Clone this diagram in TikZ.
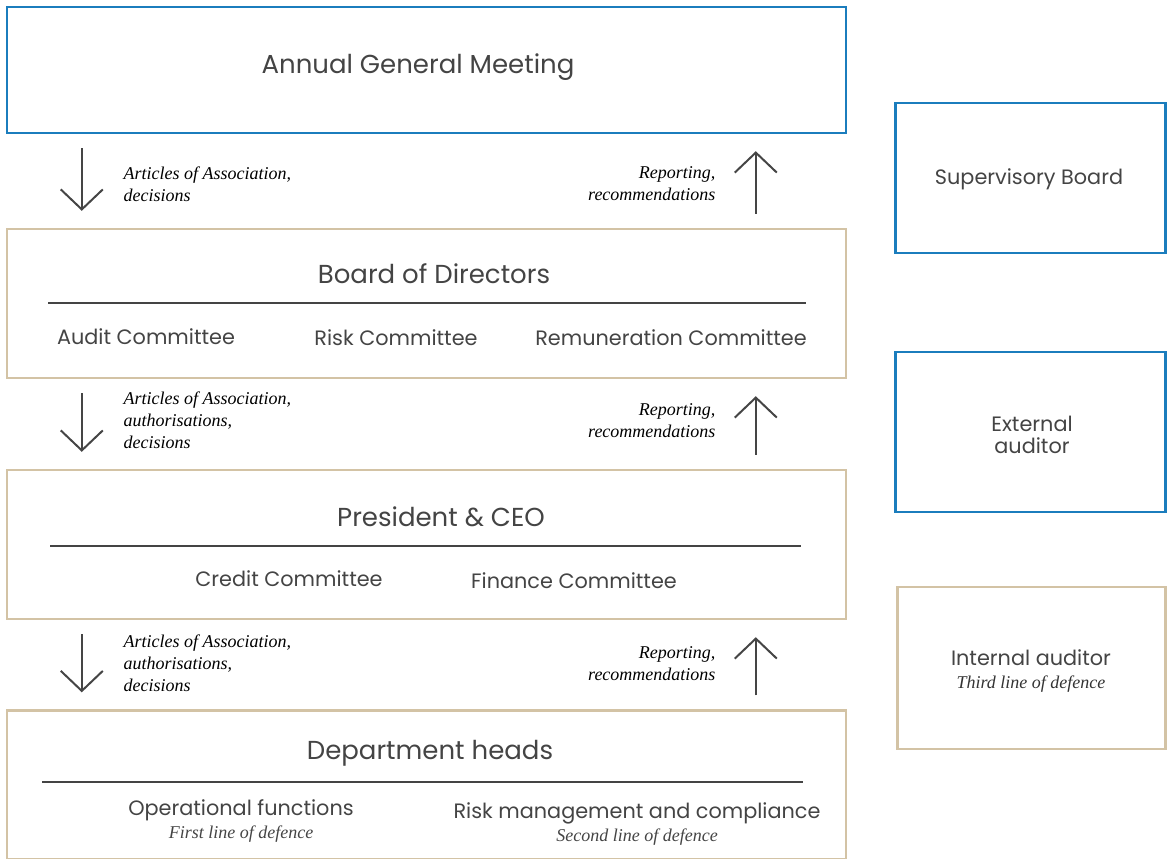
\documentclass[tikz,border=0pt]{standalone}
\usepackage{fontspec}
\setmainfont{Poppins}
\newfontfamily\notefont{Liberation Serif}
\usetikzlibrary{arrows.meta, calc}

\definecolor{agmblue}{HTML}{1B7DBD}
\definecolor{boardtan}{HTML}{D3C3A5}
\definecolor{txtgray}{HTML}{444444}
\definecolor{arrowgray}{HTML}{454545}

\tikzset{
  frame/.style={draw, line width=2.4pt, minimum width=#1},
  bluebox/.style={frame=839pt, agmblue},
  tanbox/.style={frame=839pt, boardtan},
  sidebox/.style={draw, line width=2.4pt, minimum width=270pt},
  title/.style={text=txtgray, font=\fontsize{26}{30}\selectfont},
  sub/.style={text=txtgray, font=\fontsize{20.8}{24}\selectfont},
  note/.style={text=black, font=\notefont\itshape\fontsize{18}{22}\selectfont, align=left},
  rnote/.style={note, align=right},
  rule/.style={draw=txtgray, line width=1.3pt},
  flow/.style={arrowgray, line width=2pt, -{Straight Barb[length=20pt,width=42pt,line width=2pt]}}
}
\newcommand\lineof[1]{{\notefont\itshape\fontsize{18}{20}\selectfont #1}}

\begin{document}
\begin{tikzpicture}[x=1pt,y=-1pt]
  \useasboundingbox (0,0) rectangle (1167,859);

  % main chain
  \node (agm) [bluebox, minimum height=126pt] at (426.5,70) {};
  \node (bod) [tanbox, minimum height=149pt] at (426.5,303.5) {};
  \node (ceo) [tanbox, minimum height=149pt] at (426.5,544.5) {};
  \node (dep) [tanbox, minimum height=149pt] at (426.5,785) {};

  \node (agmt) [title] at (418,67) {Annual General Meeting};

  \node (bodt) [title] at (434,274) {Board of Directors};
  \draw [rule] (48,303) -- (806,303);
  \node (audit) [sub] at (146,337) {Audit Committee};
  \node (risk)  [sub] at (396,338) {Risk Committee};
  \node (remun) [sub] at (671,338) {Remuneration Committee};

  \node (ceot) [title] at (441,517) {President \& CEO};
  \draw [rule] (50,546) -- (801,546);
  \node (credit)  [sub] at (289,579) {Credit Committee};
  \node (finance) [sub] at (574,581) {Finance Committee};

  \node (dept) [title] at (430,753) {Department heads};
  \draw [rule] (42,782) -- (803,782);
  \node (ops) [sub, align=center] at (241,821)
    {Operational functions\\[-1pt]\lineof{First line of defence}};
  \node (rmc) [sub, align=center] at (637,824)
    {Risk management and compliance\\[-1pt]\lineof{Second line of defence}};

  % side boxes
  \node (sup) [sidebox, agmblue, minimum height=150pt] at (1030.5,178) {};
  \node [sub] at (1029,179) {Supervisory Board};
  \node (ext) [sidebox, agmblue, minimum height=160pt] at (1030.5,432) {};
  \node [sub, align=center] at (1032,435) {External\\[-2pt]auditor};
  \node (int) [sidebox, boardtan, minimum height=162pt, minimum width=268pt] at (1031.5,668) {};
  \node [sub, align=center] at (1031,671)
    {Internal auditor\\[-1pt]\lineof{\color{black!80}Third line of defence}};

  % flows between levels
  \foreach \a/\b in {agm/bod, bod/ceo, ceo/dep}{
    \coordinate (\a-d1) at ($(\a.south west)+(76,14)$);
    \coordinate (\a-d2) at ($(\b.north west)+(76,-17)$);
    \coordinate (\a-u1) at ($(\b.north west)+(750,-14)$);
    \coordinate (\a-u2) at ($(\a.south west)+(750,17)$);
    \draw [flow] (\a-d1) -- (\a-d2);
    \draw [flow] (\a-u1) -- (\a-u2);
  }

  \node (n1) [note, anchor=north west] at (120,163) {Articles of Association,\\decisions};
  \node (r1) [rnote, anchor=north east] at (719,163) {Reporting,\\recommendations};
  \node (n2) [note, anchor=north west] at (120,388) {Articles of Association,\\authorisations,\\decisions};
  \node (r2) [rnote, anchor=north east] at (719,400) {Reporting,\\recommendations};
  \node (n3) [note, anchor=north west] at (120,631) {Articles of Association,\\authorisations,\\decisions};
  \node (r3) [rnote, anchor=north east] at (719,643) {Reporting,\\recommendations};
\end{tikzpicture}
\end{document}
